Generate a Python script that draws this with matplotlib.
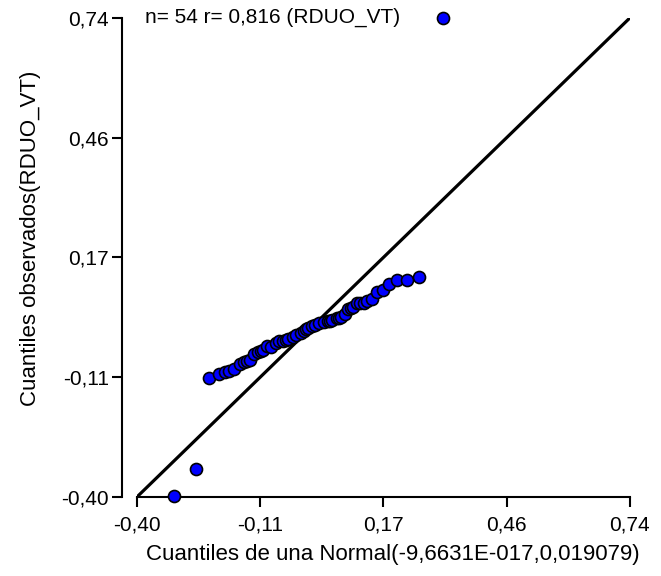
import numpy as np
import matplotlib
matplotlib.use("Agg")
from matplotlib import pyplot as plt

theo_q = [-0.314, -0.264,
          -0.233, -0.210, -0.195, -0.186, -0.176, -0.162, -0.152, -0.145,
          -0.139, -0.129, -0.120, -0.113, -0.108, -0.099, -0.089, -0.079,
          -0.072, -0.062, -0.055, -0.050, -0.040, -0.031, -0.021, -0.014,
          -0.009, -0.004, 0.004, 0.012, 0.022, 0.032, 0.042, 0.047,
          0.052, 0.062, 0.067, 0.073, 0.081, 0.089, 0.094, 0.099,
          0.108, 0.116, 0.125, 0.132, 0.143, 0.156, 0.169, 0.183,
          0.202, 0.225, 0.253,
          0.307]
obs_q = [-0.398, -0.333,
         -0.116, -0.107, -0.102, -0.099, -0.096, -0.083, -0.078, -0.076,
         -0.074, -0.060, -0.054, -0.052, -0.050, -0.040, -0.042, -0.034,
         -0.029, -0.028, -0.026, -0.024, -0.020, -0.014, -0.009, -0.004,
         -0.001, 0.002, 0.007, 0.010, 0.014, 0.017, 0.020, 0.020,
         0.021, 0.025, 0.026, 0.028, 0.036, 0.048, 0.050, 0.053,
         0.061, 0.061, 0.061, 0.067, 0.071, 0.089, 0.093, 0.107,
         0.117, 0.117, 0.123,
         0.74]

lims = [-0.40, 0.74]
tick_labels = ["-0,40", "-0,11", "0,17", "0,46", "0,74"]
note = "n= 54 r= 0,816 (RDUO_VT)"

plt.rcParams['font.family'] = ['Liberation Sans', 'DejaVu Sans']

fig = plt.figure(figsize=(6.61, 5.76), dpi=100)
ax = fig.add_axes([0.207, 0.137, 0.746, 0.832])

# reference line y = x
ax.plot(lims, lims, color='black', lw=2.3, solid_capstyle='butt', zorder=2)
ax.scatter(theo_q, obs_q, s=75, c='#0000ff', edgecolors='black',
           linewidths=1.2, zorder=3, clip_on=False)

ax.set_xlim(lims)
ax.set_ylim(lims)
ticks = np.linspace(lims[0], lims[1], 5)
ax.set_xticks(ticks)
ax.set_xticklabels(tick_labels)
ax.set_yticks(ticks)
ax.set_yticklabels(tick_labels)

for side in ['top', 'right']:
    ax.spines[side].set_visible(False)
ax.spines['left'].set_position(('outward', 11))
for side in ['left', 'bottom']:
    ax.spines[side].set_linewidth(1.5)
ax.tick_params(direction='out', length=7, width=1.5, labelsize=15)
ax.tick_params(axis='x', pad=6)
ax.tick_params(axis='y', pad=2)

ax.set_xlabel("Cuantiles de una Normal(-9,6631E-017,0,019079)", fontsize=16)
ax.set_ylabel("Cuantiles observados(RDUO_VT)", fontsize=16, labelpad=15)
ax.xaxis.set_label_coords(0.52, -0.097)
ax.yaxis.label.set_y(0.539)

ax.text(0.016, 1.0, note, transform=ax.transAxes, fontsize=15, va='center', ha='left')

plt.savefig("out.png", dpi=100)
plt.close()
